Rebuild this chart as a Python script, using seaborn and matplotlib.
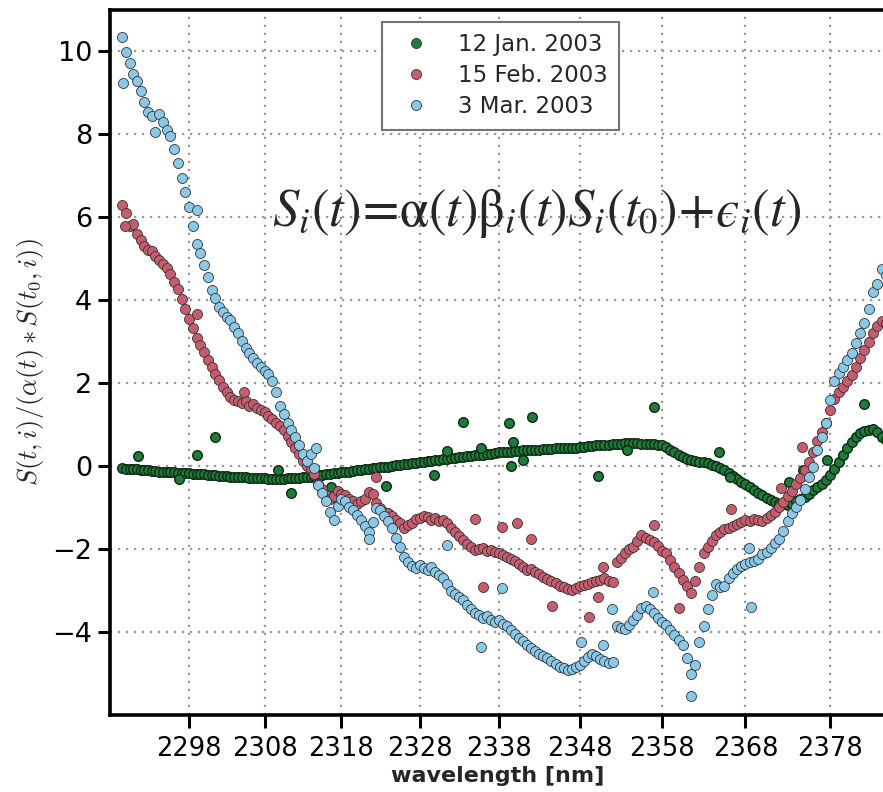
import numpy as np
import pandas as pd
import matplotlib
matplotlib.use("Agg")
import matplotlib.pyplot as plt
from matplotlib.lines import Line2D
import seaborn as sns

# ---------------- data ----------------
START_WL = 2289.0   # first sampled wavelength [nm]
STEP_WL = 0.5       # sampling step [nm]

series_labels = ["12 Jan. 2003", "15 Feb. 2003", "3 Mar. 2003"]

jan_vals = [
    -0.05, -0.06, -0.07, -0.07, -0.08, -0.09, -0.10, -0.10, -0.11, -0.12,
    -0.13, -0.13, -0.14, -0.15, -0.15, -0.16, -0.16, -0.17, -0.17, -0.18,
    -0.19, -0.19, -0.20, -0.21, -0.22, -0.22, -0.23, -0.24, -0.24, -0.25,
    -0.26, -0.26, -0.27, -0.27, -0.28, -0.28, -0.29, -0.29, -0.29, -0.30,
    -0.30, -0.30, -0.30, -0.30, -0.29, -0.29, -0.28, -0.28, -0.27, -0.26,
    -0.25, -0.24, -0.22, -0.21, -0.20, -0.19, -0.17, -0.16, -0.15, -0.14,
    -0.13, -0.11, -0.10, -0.09, -0.08, -0.07, -0.05, -0.04, -0.03, -0.02,
    -0.01, 0.01, 0.02, 0.03, 0.05, 0.06, 0.07, 0.08, 0.10, 0.11,
    0.12, 0.13, 0.14, 0.15, 0.17, 0.18, 0.19, 0.20, 0.21, 0.23,
    0.24, 0.25, 0.26, 0.27, 0.28, 0.29, 0.30, 0.31, 0.33, 0.34,
    0.35, 0.35, 0.36, 0.37, 0.38, 0.38, 0.39, 0.40, 0.40, 0.41,
    0.42, 0.42, 0.43, 0.43, 0.44, 0.44, 0.45, 0.45, 0.46, 0.47,
    0.48, 0.49, 0.50, 0.51, 0.52, 0.52, 0.53, 0.54, 0.54, 0.55,
    0.55, 0.55, 0.55, 0.54, 0.54, 0.54, 0.53, 0.52, 0.50, 0.46,
    0.40, 0.34, 0.27, 0.22, 0.18, 0.15, 0.13, 0.11, 0.09, 0.07,
    0.04, 0.00, -0.04, -0.10, -0.16, -0.23, -0.30, -0.37, -0.44, -0.51,
    -0.58, -0.64, -0.70, -0.76, -0.81, -0.86, -0.90, -0.92, -0.94, -0.90,
    -0.84, -0.79, -0.74, -0.66, -0.58, -0.51, -0.44, -0.34, -0.22, -0.06,
    0.10, 0.27, 0.44, 0.58, 0.70, 0.79, 0.86, 0.88, 0.89, 0.82,
    0.70, 0.62,
]

feb_vals = [
    6.30, 6.10, 5.80, 5.85, 5.60, 5.45, 5.30, 5.22, 5.18, 5.08,
    4.98, 4.88, 4.78, 4.64, 4.45, 4.27, 4.02, 3.80, 3.55, 3.33,
    3.10, 2.92, 2.76, 2.56, 2.40, 2.22, 2.08, 1.92, 1.78, 1.66,
    1.60, 1.58, 1.52, 1.57, 1.46, 1.50, 1.40, 1.36, 1.30, 1.22,
    1.14, 1.05, 0.96, 0.88, 0.72, 0.58, 0.45, 0.30, 0.12, 0.00,
    -0.08, -0.18, -0.42, -0.55, -0.70, -0.80, -0.72, -0.60, -0.66, -0.70,
    -0.78, -0.85, -0.90, -0.84, -0.80, -0.62, -0.68, -0.88, -1.00, -1.10,
    -1.12, -1.20, -1.30, -1.38, -1.48, -1.42, -1.36, -1.28, -1.24, -1.20,
    -1.22, -1.30, -1.26, -1.32, -1.30, -1.38, -1.50, -1.58, -1.68, -1.78,
    -1.88, -1.96, -2.02, -2.00, -1.98, -2.05, -2.02, -2.08, -2.10, -2.14,
    -2.18, -2.24, -2.28, -2.36, -2.44, -2.50, -2.48, -2.56, -2.60, -2.68,
    -2.72, -2.76, -2.82, -2.88, -2.92, -2.96, -2.98, -2.94, -2.90, -2.86,
    -2.84, -2.80, -2.76, -2.74, -2.70, -2.78, -2.80, -2.30, -2.22, -2.10,
    -2.00, -1.96, -1.80, -1.66, -1.72, -1.78, -1.84, -1.92, -2.04, -2.10,
    -2.26, -2.42, -2.58, -2.74, -2.90, -3.05, -2.76, -2.42, -2.10, -1.96,
    -1.80, -1.65, -1.58, -1.52, -1.48, -1.44, -1.40, -1.35, -1.30, -1.32,
    -1.28, -1.30, -1.32, -1.26, -1.18, -1.10, -0.98, -0.86, -0.72, -0.60,
    -0.42, -0.28, -0.10, 0.10, 0.35, 0.60, 0.82, 1.05, 1.35, 1.62,
    1.80, 1.92, 2.05, 2.20, 2.38, 2.60, 2.80, 3.00, 3.20, 3.38,
    3.50, 3.46,
]

mar_vals = [
    10.36, 9.98, 9.72, 9.45, 9.28, 9.05, 8.78, 8.55, 8.45, 8.05,
    8.50, 8.30, 8.10, 7.95, 7.65, 7.30, 6.95, 6.60, 6.25, 5.80,
    5.36, 5.15, 4.85, 4.55, 4.25, 4.05, 3.85, 3.72, 3.60, 3.52,
    3.35, 3.20, 3.02, 2.85, 2.72, 2.62, 2.48, 2.40, 2.30, 2.22,
    2.05, 1.80, 1.45, 1.25, 1.05, 0.88, 0.70, 0.50, 0.30, 0.12,
    0.30, -0.05, -0.45, -0.65, -0.85, -1.10, -1.30, -0.95, -0.78, -0.85,
    -0.98, -1.06, -1.18, -1.30, -1.45, -1.58, -1.35, -1.00, -1.05, -1.20,
    -1.32, -1.50, -1.72, -1.95, -2.20, -2.32, -2.40, -2.46, -2.38, -2.45,
    -2.50, -2.42, -2.55, -2.62, -2.70, -2.85, -3.00, -3.08, -3.15, -3.22,
    -3.35, -3.45, -3.55, -3.60, -3.65, -3.62, -3.70, -3.75, -3.72, -3.80,
    -3.86, -3.95, -4.05, -4.15, -4.22, -4.30, -4.38, -4.45, -4.52, -4.58,
    -4.62, -4.70, -4.78, -4.84, -4.86, -4.92, -4.90, -4.85, -4.80, -4.70,
    -4.60, -4.52, -4.58, -4.64, -4.70, -4.74, -4.72, -3.85, -3.90, -3.92,
    -3.82, -3.70, -3.58, -3.42, -3.36, -3.44, -3.55, -3.66, -3.75, -3.84,
    -3.96, -4.06, -4.18, -4.30, -4.62, -5.00, -4.80, -4.25, -3.85, -3.45,
    -3.10, -2.85, -2.92, -2.90, -2.70, -2.58, -2.48, -2.40, -2.36, -2.32,
    -2.28, -2.24, -2.12, -2.06, -1.98, -1.86, -1.75, -1.56, -1.32, -1.12,
    -0.98, -0.82, -0.55, -0.25, -0.02, 0.38, 0.70, 1.05, 1.60, 2.05,
    2.25, 2.38, 2.55, 2.72, 2.98, 3.20, 3.45, 3.80, 4.20, 4.40,
    4.75, 4.62,
]

# scattered outlying samples (wavelength, value)
jan_out_wl = [2291.1, 2296.6, 2299.0, 2301.5, 2309.7, 2311.5, 2316.7, 2323.7,
              2329.8, 2331.5, 2333.5, 2335.7, 2339.2, 2339.5, 2339.7, 2341.0,
              2342.1, 2350.2, 2353.7, 2357.0, 2364.8, 2366.2, 2373.1, 2374.8,
              2377.6, 2382.0]
jan_out_val = [0.24, -0.31, 0.26, 0.70, -0.10, -0.65, -0.50, -0.48,
               -0.21, 0.36, 1.06, 0.43, 1.03, 0.00, 0.58, 0.14,
               1.18, -0.24, 0.38, 1.42, 0.34, -0.26, -0.38, -0.10,
               0.14, 1.49]

feb_out_wl = [2289.4, 2299.0, 2305.3, 2322.5, 2335.0, 2338.3, 2340.2, 2342.0,
              2336.0, 2344.6, 2349.1, 2350.2, 2350.8, 2357.0, 2360.0, 2366.3,
              2372.2, 2374.7]
feb_out_val = [5.78, 3.68, 1.80, -0.26, -1.27, -1.46, -1.37, -1.75,
               -2.91, -3.37, -3.63, -3.15, -2.43, -1.42, -3.41, -1.03,
               -0.53, 0.46]

mar_out_wl = [2289.1, 2299.0, 2314.7, 2321.5, 2331.4, 2335.7, 2338.4, 2351.9,
              2356.9, 2348.1, 2350.8, 2361.5, 2368.7, 2368.4]
mar_out_val = [9.23, 6.18, 0.43, -1.75, -1.90, -4.35, -2.93, -3.44,
               -3.03, -4.25, -4.30, -5.55, -3.39, -1.97]

xtick_values = [2298, 2308, 2318, 2328, 2338, 2348, 2358, 2368, 2378]
ytick_values = [-4, -2, 0, 2, 4, 6, 8, 10]


def build(vals, out_wl, out_val, label):
    wl = START_WL + STEP_WL * np.arange(len(vals))
    return pd.DataFrame({
        "wavelength": np.concatenate([wl, np.asarray(out_wl, float)]),
        "value": np.concatenate([np.asarray(vals, float), np.asarray(out_val, float)]),
        "date": label,
    })


df_jan = build(jan_vals, jan_out_wl, jan_out_val, series_labels[0])
df_feb = build(feb_vals, feb_out_wl, feb_out_val, series_labels[1])
df_mar = build(mar_vals, mar_out_wl, mar_out_val, series_labels[2])

# ---------------- style ----------------
sns.set_style("white")
plt.rcParams["font.family"] = ["DejaVu Sans"]
plt.rcParams["mathtext.fontset"] = "cm"

GREEN = "#1e7b3a"
RED = "#c85c6c"
BLUE = "#88c9ea"
EDGE = "#333333"

# slightly non-linear wavelength axis (instrument dispersion)
K = 0.000876


def fwd(w):
    d = np.asarray(w, float) - 2298.0
    return d + K * d * d


def inv(u):
    u = np.asarray(u, float)
    return 2298.0 + (-1.0 + np.sqrt(np.clip(1.0 + 4.0 * K * u, 0, None))) / (2.0 * K)


fig = plt.figure(figsize=(8.83, 7.92), dpi=100)
ax = fig.add_axes([110 / 883, 77 / 792, 776 / 883, 705 / 792])
ax.set_xscale("function", functions=(fwd, inv))

sns.scatterplot(data=df_jan, x="wavelength", y="value", color=GREEN, s=48,
                edgecolor="#0c2a14", linewidth=1.0, ax=ax, zorder=3, legend=False)
sns.scatterplot(data=df_feb, x="wavelength", y="value", color=RED, s=52,
                edgecolor=EDGE, linewidth=0.6, ax=ax, zorder=3, legend=False)
sns.scatterplot(data=df_mar, x="wavelength", y="value", color=BLUE, s=52,
                edgecolor=EDGE, linewidth=0.6, ax=ax, zorder=3, legend=False)

ax.set_xlim(2287.35, 2384.5)
ax.set_ylim(-6, 11)
ax.set_xticks(xtick_values, labels=[str(v) for v in xtick_values])
ax.set_yticks(ytick_values, labels=[("\u2212%d" % -v) if v < 0 else str(v) for v in ytick_values])
ax.minorticks_off()

ax.set_axisbelow(True)
ax.grid(True, color="0.6", linestyle=(0, (1, 2.6)), linewidth=1.6)

for side in ["left", "bottom", "top", "right"]:
    ax.spines[side].set_linewidth(2.6)
    ax.spines[side].set_color("black")

ax.tick_params(axis="x", which="major", direction="out", length=9, width=2.2,
               labelsize=18.5, pad=6, colors="black", bottom=True)
ax.tick_params(axis="y", which="major", direction="out", length=9, width=2.2,
               labelsize=19.5, pad=4, colors="black", left=True)

ax.set_xlabel("wavelength [nm]", fontsize=16, fontweight="bold", labelpad=3)
ax.set_ylabel(r"$S(t,i)/(\alpha(t)*S(t_0,i))$", fontsize=19, labelpad=4)

formula = (r"$S_i(t)\!=\!\mathrm{\alpha}(t)\mathrm{\beta}_i(t)S_i(t_0)\!+\!"
           + "\u03f5" + r"_i(t)$")
ax.text(0.550, 0.712, formula,
        transform=ax.transAxes, ha="center", va="center", fontsize=38,
        math_fontfamily="stix")

colors = [GREEN, RED, BLUE]
handles = [Line2D([], [], linestyle="none", marker="o", markersize=7.2,
                  markerfacecolor=c, markeredgecolor=EDGE, markeredgewidth=0.6)
           for c in colors]
leg = ax.legend(handles, series_labels, loc="upper center", bbox_to_anchor=(0.503, 0.983),
                fontsize=16.5, frameon=True, fancybox=False, framealpha=1,
                edgecolor="0.45", borderpad=0.5, labelspacing=0.35,
                handletextpad=0.8, borderaxespad=0)
leg.get_frame().set_linewidth(1.5)

fig.savefig("out.png", dpi=100)
